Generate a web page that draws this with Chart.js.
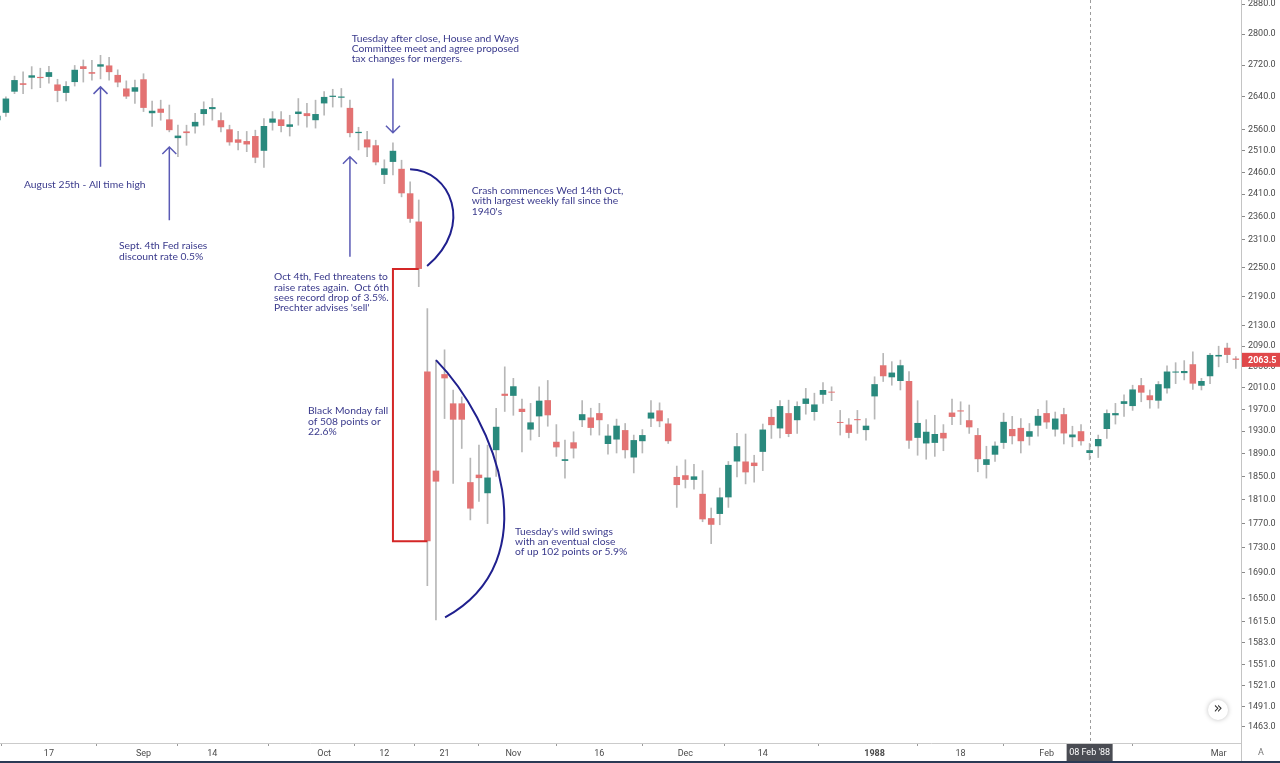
<!DOCTYPE html>
<html lang="en">
<head>
<meta charset="UTF-8">
<title>Dow Jones 1987</title>
<script src="https://cdn.jsdelivr.net/npm/chart.js@4.4.1/dist/chart.umd.min.js"></script>
<style>
    html, body { margin: 0; padding: 0; background: #fff; overflow: hidden; }
</style>
</head>
<body>
<canvas id="grafico" width="1280" height="763"></canvas>
<script>
    // trading days, Aug 7 1987 .. Mar 3 1988
    var dates = [
        '1987-08-07', '1987-08-10', '1987-08-11', '1987-08-12', '1987-08-13', '1987-08-14',
        '1987-08-17', '1987-08-18', '1987-08-19', '1987-08-20', '1987-08-21',
        '1987-08-24', '1987-08-25', '1987-08-26', '1987-08-27', '1987-08-28', '1987-08-31',
        '1987-09-01', '1987-09-02', '1987-09-03', '1987-09-04',
        '1987-09-08', '1987-09-09', '1987-09-10', '1987-09-11',
        '1987-09-14', '1987-09-15', '1987-09-16', '1987-09-17', '1987-09-18',
        '1987-09-21', '1987-09-22', '1987-09-23', '1987-09-24', '1987-09-25',
        '1987-09-28', '1987-09-29', '1987-09-30', '1987-10-01', '1987-10-02',
        '1987-10-05', '1987-10-06', '1987-10-07', '1987-10-08', '1987-10-09',
        '1987-10-12', '1987-10-13', '1987-10-14', '1987-10-15', '1987-10-16',
        '1987-10-19', '1987-10-20', '1987-10-21', '1987-10-22', '1987-10-23',
        '1987-10-26', '1987-10-27', '1987-10-28', '1987-10-29', '1987-10-30',
        '1987-11-02', '1987-11-03', '1987-11-04', '1987-11-05', '1987-11-06',
        '1987-11-09', '1987-11-10', '1987-11-11', '1987-11-12', '1987-11-13',
        '1987-11-16', '1987-11-17', '1987-11-18', '1987-11-19', '1987-11-20',
        '1987-11-23', '1987-11-24', '1987-11-25', '1987-11-27', '1987-11-30',
        '1987-12-01', '1987-12-02', '1987-12-03', '1987-12-04',
        '1987-12-07', '1987-12-08', '1987-12-09', '1987-12-10', '1987-12-11',
        '1987-12-14', '1987-12-15', '1987-12-16', '1987-12-17', '1987-12-18',
        '1987-12-21', '1987-12-22', '1987-12-23', '1987-12-24',
        '1987-12-28', '1987-12-29', '1987-12-30', '1987-12-31',
        '1988-01-04', '1988-01-05', '1988-01-06', '1988-01-07', '1988-01-08',
        '1988-01-11', '1988-01-12', '1988-01-13', '1988-01-14', '1988-01-15',
        '1988-01-18', '1988-01-19', '1988-01-20', '1988-01-21', '1988-01-22',
        '1988-01-25', '1988-01-26', '1988-01-27', '1988-01-28', '1988-01-29',
        '1988-02-01', '1988-02-02', '1988-02-03', '1988-02-04', '1988-02-05',
        '1988-02-08', '1988-02-09', '1988-02-10', '1988-02-11', '1988-02-12',
        '1988-02-16', '1988-02-17', '1988-02-18', '1988-02-19',
        '1988-02-22', '1988-02-23', '1988-02-24', '1988-02-25', '1988-02-26',
        '1988-02-29', '1988-03-01', '1988-03-02', '1988-03-03'
    ];

    var opens = [
        2583, 2601, 2653, 2674, 2688, 2690, 2690, 2671, 2650, 2677, 2717,
        2702, 2716, 2719, 2695, 2661, 2653, 2684, 2600, 2611, 2585,
        2540, 2556, 2568, 2598, 2610, 2583, 2561, 2537, 2533,
        2545, 2510, 2577, 2585, 2567, 2598, 2600, 2583, 2624, 2640,
        2638, 2613, 2552, 2537, 2523, 2454, 2484, 2468, 2412, 2349,
        2041, 1860, 2036, 1981, 1981, 1840, 1853, 1821, 1896, 1999,
        1995, 1971, 1933, 1957, 1987, 1911, 1877, 1910, 1950, 1955,
        1963, 1907, 1915, 1932, 1883, 1912, 1953, 1968, 1944, 1849,
        1852, 1844, 1820, 1779, 1786, 1814, 1876, 1876, 1874,
        1893, 1956, 1935, 1963, 1950, 1980, 1965, 1997, 2002,
        1946, 1942, 1952, 1932, 1994, 2053, 2030, 2023, 2023,
        1918, 1908, 1909, 1927, 1964, 1968, 1950, 1923, 1870, 1888,
        1909, 1934, 1936, 1920, 1940, 1963, 1933, 1961, 1919, 1930,
        1891, 1903, 1934, 1959, 1980, 1976, 2015, 1996, 1986,
        2009, 2039, 2038, 2055, 2014, 2032, 2070, 2087, 2066
    ];
    var highs = [
        2600, 2640, 2692, 2703, 2716, 2712, 2717, 2684, 2678, 2719, 2733,
        2732, 2745, 2740, 2708, 2680, 2682, 2698, 2630, 2632, 2620,
        2571, 2571, 2600, 2628, 2636, 2601, 2571, 2556, 2556,
        2559, 2587, 2604, 2604, 2595, 2636, 2624, 2632, 2653, 2659,
        2661, 2632, 2566, 2556, 2535, 2489, 2529, 2488, 2438, 2397,
        2165, 2063, 2083, 2006, 1993, 1882, 1905, 1905, 1972, 2050,
        2028, 1989, 1981, 2012, 2024, 1942, 1914, 1929, 1986, 1972,
        1981, 1942, 1952, 1944, 1923, 1933, 1986, 1982, 1953, 1868,
        1879, 1871, 1860, 1796, 1830, 1876, 1926, 1925, 1887,
        1943, 1970, 1986, 1987, 1984, 2009, 2000, 2020, 2012,
        1968, 1953, 1968, 1953, 2031, 2076, 2060, 2063, 2041,
        1986, 1951, 1959, 1942, 1989, 1984, 1978, 1935, 1903, 1911,
        1963, 1957, 1953, 1944, 1970, 1986, 1965, 1972, 1939, 1942,
        1908, 1923, 1969, 1981, 1997, 2015, 2028, 2006, 2022,
        2052, 2058, 2062, 2079, 2028, 2076, 2090, 2096, 2070
    ];
    var lows = [
        2578, 2592, 2648, 2648, 2660, 2663, 2674, 2628, 2630, 2667, 2677,
        2682, 2685, 2682, 2665, 2636, 2624, 2604, 2568, 2583, 2555,
        2496, 2523, 2552, 2571, 2583, 2555, 2523, 2512, 2508,
        2482, 2471, 2559, 2555, 2545, 2571, 2566, 2564, 2595, 2615,
        2615, 2543, 2512, 2496, 2477, 2434, 2454, 2404, 2347, 2210,
        1670, 1617, 1953, 1838, 1899, 1776, 1807, 1770, 1850, 1966,
        1959, 1893, 1914, 1920, 1939, 1885, 1847, 1882, 1938, 1923,
        1923, 1889, 1891, 1882, 1856, 1891, 1938, 1938, 1908, 1797,
        1830, 1828, 1773, 1737, 1768, 1797, 1849, 1837, 1840,
        1860, 1917, 1918, 1920, 1926, 1961, 1950, 1981, 1986,
        1923, 1918, 1926, 1914, 1952, 2022, 2015, 2006, 1899,
        1887, 1880, 1885, 1895, 1942, 1942, 1926, 1858, 1847, 1876,
        1899, 1907, 1891, 1905, 1921, 1935, 1921, 1907, 1902, 1905,
        1879, 1883, 1917, 1943, 1957, 1968, 1984, 1972, 1972,
        2000, 2018, 2025, 2007, 2006, 2018, 2050, 2058, 2047
    ];
    var closes = [
        2594, 2636, 2682, 2670, 2694, 2687, 2702, 2655, 2667, 2708, 2710,
        2698, 2722, 2702, 2676, 2641, 2664, 2613, 2606, 2601, 2559,
        2546, 2552, 2579, 2610, 2615, 2566, 2530, 2529, 2525,
        2494, 2569, 2587, 2569, 2573, 2604, 2593, 2598, 2640, 2643,
        2641, 2552, 2555, 2518, 2483, 2469, 2510, 2412, 2355, 2247,
        1741, 1841, 2028, 1951, 1951, 1795, 1847, 1848, 1938, 1995,
        2013, 1965, 1946, 1986, 1959, 1901, 1880, 1899, 1961, 1936,
        1950, 1922, 1940, 1896, 1914, 1923, 1964, 1948, 1912, 1835,
        1844, 1850, 1777, 1768, 1814, 1870, 1903, 1857, 1868,
        1933, 1941, 1976, 1925, 1976, 1990, 1979, 2006, 2001,
        1945, 1927, 1950, 1940, 2017, 2032, 2039, 2053, 1913,
        1945, 1929, 1925, 1917, 1956, 1966, 1937, 1880, 1880, 1904,
        1947, 1921, 1912, 1930, 1958, 1946, 1953, 1926, 1924, 1912,
        1896, 1916, 1963, 1963, 1985, 2007, 2001, 1987, 2017,
        2041, 2041, 2042, 2018, 2023, 2073, 2073, 2073, 2063.5
    ];

    var tickDates = ['1987-08-17', '1987-09-01', '1987-09-14', '1987-10-01', '1987-10-12', '1987-10-21',
        '1987-11-02', '1987-11-16', '1987-12-01', '1987-12-14', '1988-01-04', '1988-01-18',
        '1988-02-01', '1988-03-01'];
    var tickNames = ['17', 'Sep', '14', 'Oct', '12', '21', 'Nov', '16', 'Dec', '14', '1988', '18', 'Feb', 'Mar'];
    var priceTicks = [2880, 2800, 2720, 2640, 2560, 2510, 2460, 2410, 2360, 2310, 2250, 2190, 2130, 2090,
        2050, 2010, 1970, 1930, 1890, 1850, 1810, 1770, 1730, 1690, 1650, 1615, 1583, 1551, 1521, 1491, 1463];

    var cursorDate = '1988-02-08';
    var cursorText = "08 Feb '88";

    // notes: [index, price] of the first line
    var notes = [
        { at: [3.1, 2431], lines: ['August 25th - All time high'] },
        { at: [14.15, 2296], lines: ['Sept. 4th Fed raises', 'discount rate 0.5%'] },
        { at: [32.17, 2230], lines: ['Oct 4th, Fed threatens to', 'raise rates again.  Oct 6th', 'sees record drop of 3.5%.', "Prechter advises 'sell'"] },
        { at: [41.2, 2789], lines: ['Tuesday after close, House and Ways', 'Committee meet and agree proposed', 'tax changes for mergers.'] },
        { at: [55.16, 2418], lines: ['Crash commences Wed 14th Oct,', 'with largest weekly fall since the', "1940's"] },
        { at: [36.13, 1967], lines: ['Black Monday fall', 'of 508 points or', '22.6%'] },
        { at: [60.2, 1757], lines: ["Tuesday's wild swings", 'with an eventual close', 'of up 102 points or 5.9%'] }
    ];
    // arrows: date, tail price, head price
    var arrows = [
        ['1987-08-25', 2473, 2665],
        ['1987-09-04', 2352, 2519],
        ['1987-10-06', 2273, 2496],
        ['1987-10-13', 2686, 2553]
    ];
    // bezier curves, [index, price] points
    var curves = [
        [[47.99, 2467], [52.64, 2465], [55.55, 2341], [49.97, 2253]],
        [[51.01, 2063], [57.87, 1950], [64.27, 1711], [52.06, 1621]]
    ];

    var upColor = '#29897d';
    var downColor = '#e37272';
    var wickColor = '#b7b7b7';
    var noteColor = '#3a3a8c';
    var arrowColor = '#5b5bb5';
    var axisFont = "'Liberation Sans Narrow', Roboto, sans-serif";

    var bodies = dates.map(function (d, k) { return { x: k, y: [opens[k], closes[k]] }; });
    var wicks = dates.map(function (d, k) { return { x: k, y: [lows[k], highs[k]] }; });
    var bodyColors = dates.map(function (d, k) { return closes[k] >= opens[k] ? upColor : downColor; });

    var notas = {
        id: 'notas',
        beforeDatasetsDraw: function (chart) {
            var ctx = chart.ctx;
            var x = Math.round(chart.scales.x.getPixelForValue(dates.indexOf(cursorDate))) + 0.5;
            ctx.save();
            ctx.strokeStyle = '#9c9c9c';
            ctx.lineWidth = 1;
            ctx.setLineDash([3, 3]);
            ctx.beginPath();
            ctx.moveTo(x, chart.chartArea.top);
            ctx.lineTo(x, chart.chartArea.bottom);
            ctx.stroke();
            ctx.restore();
        },
        afterDatasetsDraw: function (chart) {
            var ctx = chart.ctx, sx = chart.scales.x, sy = chart.scales.y;
            function P(k, v) { return [sx.getPixelForValue(k), sy.getPixelForValue(v)]; }
            ctx.save();

            // arrows
            ctx.strokeStyle = arrowColor;
            ctx.lineWidth = 1.5;
            arrows.forEach(function (a) {
                var k = dates.indexOf(a[0]);
                var t = P(k, a[1]), h = P(k, a[2]);
                var dir = h[1] < t[1] ? 1 : -1;
                ctx.beginPath();
                ctx.moveTo(t[0], t[1]);
                ctx.lineTo(h[0], h[1]);
                ctx.moveTo(h[0] - 7, h[1] + dir * 7);
                ctx.lineTo(h[0], h[1]);
                ctx.lineTo(h[0] + 7, h[1] + dir * 7);
                ctx.stroke();
            });

            // curves
            ctx.strokeStyle = '#20208e';
            ctx.lineWidth = 2;
            curves.forEach(function (c) {
                var p = c.map(function (q) { return P(q[0], q[1]); });
                ctx.beginPath();
                ctx.moveTo(p[0][0], p[0][1]);
                ctx.bezierCurveTo(p[1][0], p[1][1], p[2][0], p[2][1], p[3][0], p[3][1]);
                ctx.stroke();
            });

            // red bracket Oct 16 close -> Oct 19 close
            var k16 = dates.indexOf('1987-10-16'), k19 = dates.indexOf('1987-10-19');
            var k13 = dates.indexOf('1987-10-13');
            var a = P(k16, closes[k16]), b = P(k13, closes[k16]), c = P(k13, closes[k19]), d = P(k19, closes[k19]);
            ctx.strokeStyle = '#d42626';
            ctx.lineWidth = 2;
            ctx.beginPath();
            ctx.moveTo(a[0], a[1]);
            ctx.lineTo(b[0], b[1]);
            ctx.lineTo(c[0], c[1]);
            ctx.lineTo(d[0], d[1]);
            ctx.stroke();

            // notes
            ctx.fillStyle = noteColor;
            ctx.font = '10.3px Lato, sans-serif';
            ctx.textBaseline = 'middle';
            ctx.textAlign = 'left';
            notes.forEach(function (n) {
                var p = P(n.at[0], n.at[1]);
                n.lines.forEach(function (l, j) { ctx.fillText(l, p[0], p[1] + j * 10.3); });
            });
            ctx.restore();
        },
        afterDraw: function (chart) {
            var ctx = chart.ctx, sx = chart.scales.x, sy = chart.scales.y, area = chart.chartArea;
            ctx.save();
            // axis line through the bottom strip
            ctx.fillStyle = '#c4c4c4';
            ctx.fillRect(area.right, area.bottom, 1, 20);

            // last price label
            var last = closes[closes.length - 1];
            var y = sy.getPixelForValue(last);
            ctx.fillStyle = '#e0484a';
            ctx.fillRect(area.right + 1, y - 7, 39, 14);
            ctx.fillStyle = '#fff';
            ctx.font = 'bold 9px ' + axisFont;
            ctx.textBaseline = 'middle';
            ctx.fillText(last.toFixed(1), area.right + 7, y + 0.5);

            // cursor date label
            var x = sx.getPixelForValue(dates.indexOf(cursorDate));
            ctx.fillStyle = '#4a4c53';
            ctx.fillRect(x - 23, area.bottom + 1, 46, 17);
            ctx.fillStyle = '#fff';
            ctx.font = '9px ' + axisFont;
            ctx.textAlign = 'center';
            ctx.fillText(cursorText, x, area.bottom + 10);

            // scroll button
            ctx.shadowColor = 'rgba(0,0,0,0.25)';
            ctx.shadowBlur = 5;
            ctx.fillStyle = '#fff';
            ctx.beginPath();
            ctx.arc(area.right - 23, area.bottom - 33, 10, 0, Math.PI * 2);
            ctx.fill();
            ctx.shadowBlur = 0;
            ctx.fillStyle = '#333';
            ctx.font = '15px DejaVu Sans, sans-serif';
            ctx.fillText('\u00bb', area.right - 23, area.bottom - 34);

            // auto-scale badge
            ctx.fillStyle = '#777';
            ctx.font = '9px ' + axisFont;
            ctx.fillText('A', area.right + 20, area.bottom + 10);

            // window edge
            ctx.fillStyle = '#2b3a55';
            ctx.fillRect(0, chart.height - 2, chart.width, 2);
            ctx.restore();
        }
    };

    new Chart(document.getElementById('grafico').getContext('2d'), {
        type: 'bar',
        data: {
            datasets: [{
                label: 'Body',
                data: bodies,
                backgroundColor: bodyColors,
                barPercentage: 0.8,
                categoryPercentage: 0.95,
                minBarLength: 1,
                grouped: false,
                order: 1
            }, {
                label: 'Wick',
                data: wicks,
                backgroundColor: wickColor,
                barThickness: 1,
                grouped: false,
                order: 2
            }]
        },
        options: {
            responsive: false,
            animation: false,
            events: [],
            layout: { padding: 0 },
            plugins: { legend: { display: false }, tooltip: { enabled: false } },
            scales: {
                x: {
                    type: 'linear',
                    min: 0.314,
                    max: 144.6,
                    offset: false,
                    border: { color: '#cbcbcb' },
                    grid: { drawOnChartArea: false, tickLength: 3, color: '#9a9a9a' },
                    ticks: {
                        autoSkip: false,
                        maxRotation: 0,
                        padding: 2,
                        color: '#4a4a4a',
                        font: function (c) {
                            return { family: axisFont, size: 9, weight: (c.tick && c.tick.value === dates.indexOf('1988-01-04')) ? 'bold' : 'normal' };
                        },
                        callback: function (v, i) { return tickNames[i]; }
                    },
                    afterBuildTicks: function (scale) {
                        scale.ticks = tickDates.map(function (d) { return { value: dates.indexOf(d) }; });
                    },
                    afterFit: function (scale) {
                        scale.height = 20;
                        scale.paddingLeft = 0;
                        scale.paddingRight = 0;
                    }
                },
                y: {
                    type: 'logarithmic',
                    position: 'right',
                    min: 1441,
                    max: 2891,
                    border: { color: '#c4c4c4' },
                    grid: { drawOnChartArea: false, tickLength: 4, color: '#8a8a8a' },
                    ticks: {
                        padding: 3,
                        color: '#4a4a4a',
                        font: { family: axisFont, size: 9 },
                        callback: function (v) { return Number(v).toFixed(1); }
                    },
                    afterBuildTicks: function (scale) {
                        scale.ticks = priceTicks.map(function (v) { return { value: v }; });
                    },
                    afterFit: function (scale) {
                        scale.width = 39;
                        scale.paddingTop = 0;
                        scale.paddingBottom = 0;
                    }
                }
            }
        },
        plugins: [notas]
    });
</script>
</body>
</html>
